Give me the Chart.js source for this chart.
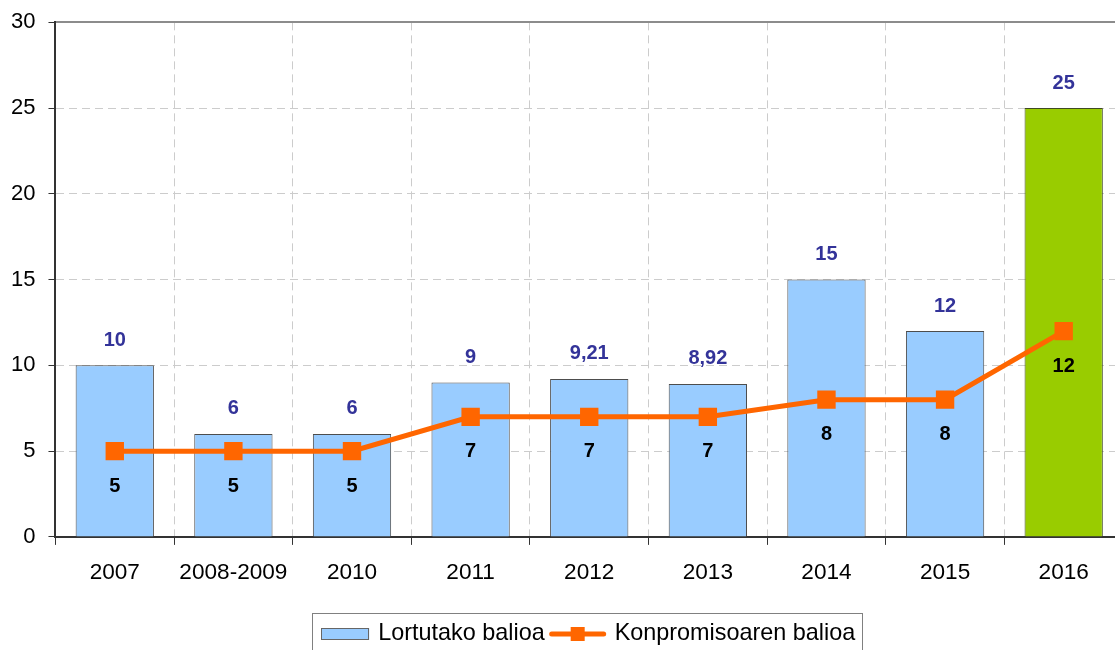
<!DOCTYPE html>
<html lang="eu">
<head>
    <meta charset="UTF-8">
    <title>Lortutako balioa</title>
    <script src="https://cdn.jsdelivr.net/npm/chart.js"></script>
    <style>
        html, body { margin: 0; padding: 0; overflow: hidden; background: #fff; }
        #myChart { display: block; }
    </style>
</head>
<body>
    <canvas id="myChart" width="1136" height="650"></canvas>
    <script>
        const urteak = ['2007', '2008-2009', '2010', '2011', '2012', '2013', '2014', '2015', '2016'];
        const lortutakoBalioa = [10, 6, 6, 9, 9.21, 8.92, 15, 12, 25];
        const konpromisoBalioa = [5, 5, 5, 7, 7, 7, 8, 8, 12];
        const yMin = 0;
        const yMax = 30;
        const yStep = 5;

        const FONT = "'Liberation Sans', Arial, sans-serif";

        function zenbakia(v) {
            return String(v).replace('.', ',');
        }

        // balioak barren gainean eta lerroaren azpian
        const etiketak = {
            id: 'etiketak',
            afterDatasetsDraw(chart) {
                const ctx = chart.ctx;
                ctx.save();
                ctx.font = 'bold 20px ' + FONT;
                ctx.textAlign = 'center';
                ctx.textBaseline = 'middle';
                chart.getDatasetMeta(0).data.forEach(function (bar, i) {
                    ctx.fillStyle = '#333399';
                    ctx.fillText(zenbakia(lortutakoBalioa[i]), bar.x, bar.y - 25);
                });
                chart.getDatasetMeta(1).data.forEach(function (pt, i) {
                    ctx.fillStyle = '#000000';
                    ctx.fillText(zenbakia(konpromisoBalioa[i]), pt.x, pt.y + 35);
                });
                ctx.restore();
            }
        };

        // legenda marko batekin, behean
        const legenda = {
            id: 'legenda',
            afterDraw(chart) {
                const ctx = chart.ctx;
                const a = chart.chartArea;
                const ds = chart.data.datasets;
                ctx.save();
                ctx.font = '23.4px ' + FONT;
                ctx.textBaseline = 'middle';
                const w1 = ctx.measureText(ds[0].label).width;
                const w2 = ctx.measureText(ds[1].label).width;
                const total = 9 + 48 + 9 + w1 + 4 + 58 + 8 + w2 + 7;
                const left = (a.left + a.right) / 2 - total / 2 - 2;
                const top = 613;
                const cy = 634;

                ctx.strokeStyle = '#808080';
                ctx.lineWidth = 1;
                ctx.strokeRect(Math.round(left) + 0.5, top + 0.5, Math.round(total), 50);

                let x = left + 9;
                ctx.fillStyle = ds[0].backgroundColor({ dataIndex: 0 });
                ctx.fillRect(x, cy - 6, 48, 12);
                ctx.strokeStyle = '#666666';
                ctx.strokeRect(Math.round(x) + 0.5, cy - 5.5, 47, 11);
                x += 48 + 9;
                ctx.fillStyle = '#000';
                ctx.fillText(ds[0].label, x, cy);
                x += w1 + 4;

                ctx.strokeStyle = ds[1].borderColor;
                ctx.lineWidth = 5;
                ctx.lineCap = 'round';
                ctx.beginPath();
                ctx.moveTo(x + 3, cy);
                ctx.lineTo(x + 55, cy);
                ctx.stroke();
                ctx.fillStyle = ds[1].borderColor;
                ctx.fillRect(x + 29 - 7, cy - 7, 14, 14);
                x += 58 + 8;
                ctx.fillStyle = '#000';
                ctx.fillText(ds[1].label, x, cy);
                ctx.restore();
            }
        };

        const chartData = {
            labels: urteak,
            datasets: [
                {
                    type: 'bar',
                    label: 'Lortutako balioa',
                    data: lortutakoBalioa,
                    backgroundColor: function (c) {
                        return c.dataIndex === lortutakoBalioa.length - 1 ? '#99CC00' : '#99CCFF';
                    },
                    borderColor: function (c) {
                        return c.dataIndex === lortutakoBalioa.length - 1 ? '#3F4A22' : '#4D4D4D';
                    },
                    borderWidth: 1,
                    barPercentage: 0.66,
                    categoryPercentage: 1,
                    order: 1
                },
                {
                    type: 'line',
                    label: 'Konpromisoaren balioa',
                    data: konpromisoBalioa,
                    borderColor: '#FF6600',
                    backgroundColor: '#FF6600',
                    borderWidth: 5,
                    pointStyle: 'rect',
                    pointRadius: 13,
                    pointBorderWidth: 0,
                    pointBackgroundColor: '#FF6600',
                    tension: 0,
                    order: 0
                }
            ]
        };

        const options = {
            responsive: false,
            animation: false,
            layout: {
                padding: { left: -2, right: 0, top: 5, bottom: 50 }
            },
            plugins: {
                legend: { display: false },
                tooltip: { enabled: false }
            },
            scales: {
                x: {
                    offset: true,
                    grid: {
                        offset: true,
                        color: '#CCCCCC',
                        lineWidth: 1,
                        tickLength: 8,
                        tickColor: '#333333',
                        tickWidth: 1
                    },
                    border: { display: true, color: '#333333', width: 2, dash: [8, 5] },
                    ticks: {
                        color: '#000',
                        padding: 14,
                        font: { family: FONT, size: 22.6 },
                        maxRotation: 0,
                        autoSkip: false
                    }
                },
                x2: {
                    type: 'category',
                    position: 'top',
                    labels: urteak,
                    grid: { display: false, drawTicks: false },
                    border: { display: true, color: '#8C8C8C', width: 2 },
                    ticks: { display: false }
                },
                y: {
                    min: yMin,
                    max: yMax,
                    grid: {
                        color: '#CCCCCC',
                        lineWidth: 1,
                        tickLength: 7,
                        tickColor: '#333333',
                        tickWidth: 1
                    },
                    border: { display: true, color: '#333333', width: 2, dash: [8, 5] },
                    ticks: {
                        stepSize: yStep,
                        color: '#000',
                        padding: 13,
                        font: { family: FONT, size: 22, lineHeight: 0.85 }
                    }
                }
            }
        };

        new Chart(document.getElementById('myChart'), {
            data: chartData,
            options: options,
            plugins: [etiketak, legenda]
        });
    </script>
</body>
</html>
